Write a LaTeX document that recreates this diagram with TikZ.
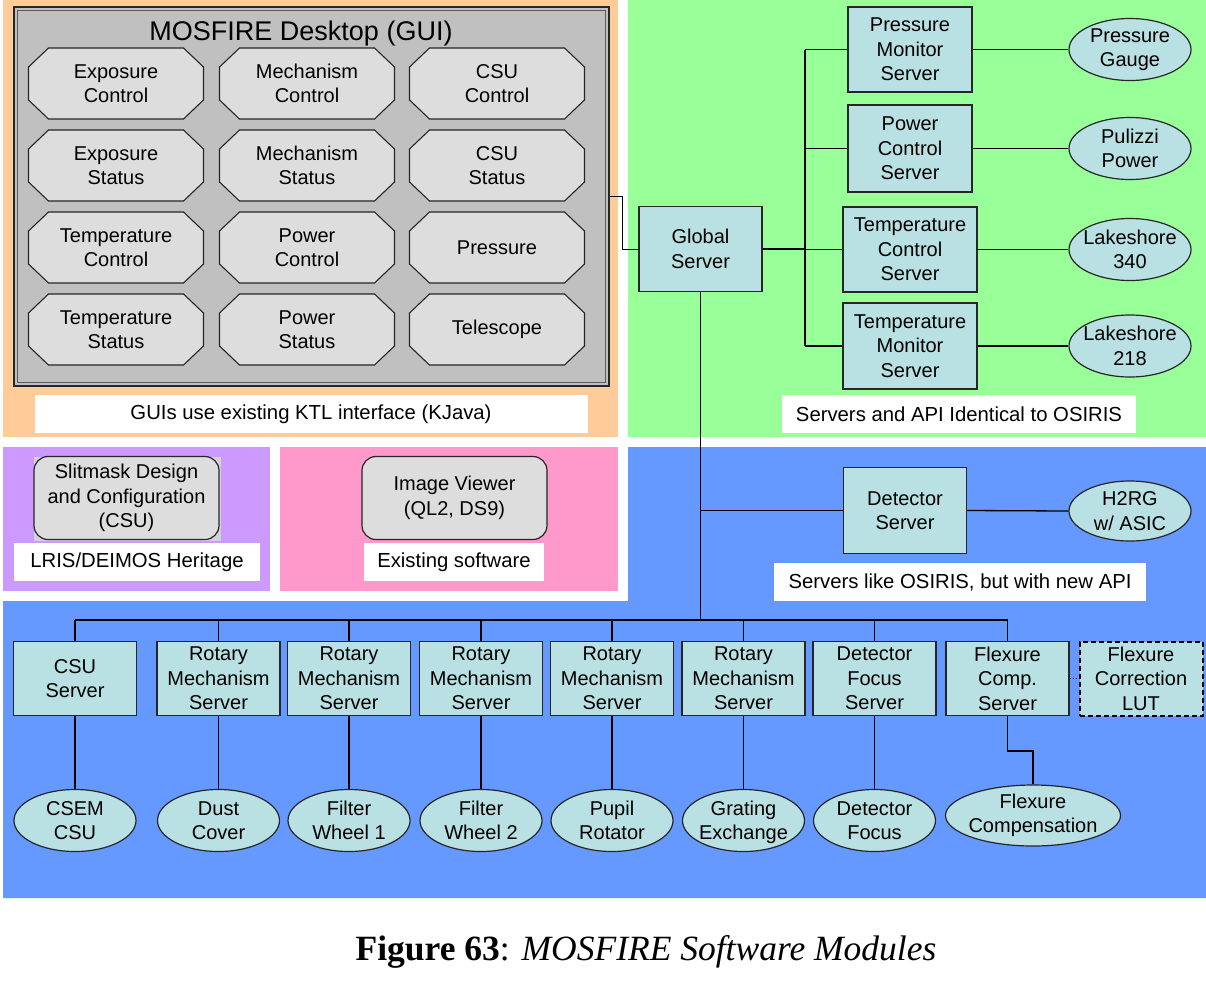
\documentclass[tikz,border=0pt]{standalone}
\usepackage{fontspec}
\setmainfont{Liberation Sans}
\newfontfamily\capfont{Liberation Serif}
\usetikzlibrary{shapes.geometric}
\definecolor{orangebg}{HTML}{FFCC99}
\definecolor{greenbg}{HTML}{99FF99}
\definecolor{purplebg}{HTML}{CC99FF}
\definecolor{pinkbg}{HTML}{FF99CC}
\definecolor{bluebg}{HTML}{6699FF}
\definecolor{srvc}{HTML}{B9E0E2}
\definecolor{octc}{HTML}{DDDDDD}
\definecolor{framec}{HTML}{C0C0C0}
\definecolor{slitbg}{HTML}{D4D0D8}
\newcommand\fs{\fontsize{20}{24.5}\selectfont}
\newcommand\lfs{\fontsize{20.3}{24}\selectfont}
\newcommand\octa[4]{\begin{scope}[shift={(#2,#3)}]
  \filldraw[octs] (-87.5,-16.5) -- (-67.5,-35.5) -- (67.5,-35.5) -- (87.5,-16.5) -- (87.5,16.5) -- (67.5,35.5) -- (-67.5,35.5) -- (-87.5,16.5) -- cycle;
  \node[txt] (#1) at (0,0) {#4};\end{scope}}
\begin{document}
\begin{tikzpicture}[x=1pt,y=-1pt,
  txt/.style={align=center,font=\fs,inner sep=0pt},
  octs/.style={fill=octc,draw=black!85,line width=1.1pt},
  srv/.style={draw=black!85,line width=1.2pt,fill=srvc,inner sep=0pt,align=center,font=\fs,minimum width=123pt,minimum height=85pt},
  bsrv/.style={srv,minimum width=123pt,minimum height=74pt},
  ell/.style={ellipse,draw=black!85,line width=1.2pt,fill=srvc,inner sep=0pt,minimum width=122pt,minimum height=62pt},
  rbox/.style={draw=black!85,line width=1.2pt,fill=octc,rounded corners=14pt,inner sep=0pt,align=center,font=\fs,minimum width=185pt,minimum height=83pt},
  lbl/.style={fill=white,inner sep=0pt,font=\lfs,minimum height=38pt},
  conn/.style={line width=1.3pt,black}]
\useasboundingbox (0,0) rectangle (1206,980);
\fill[white] (0,0) rectangle (1206,980);
% backgrounds
\fill[orangebg] (3,0) rectangle (618,437);
\fill[greenbg] (628,0) rectangle (1206,437);
\fill[purplebg] (3,447) rectangle (270,591);
\fill[pinkbg] (280,447) rectangle (618,591);
\fill[bluebg] (628,447) -- (1206,447) -- (1206,898) -- (3,898) -- (3,601) -- (628,601) -- cycle;
% desktop frame
\node[draw=black!85,line width=1.6pt,fill=framec,minimum width=595pt,minimum height=379pt,inner sep=0pt] (desk) at (311.5,196.5) {};
\draw[black!65,line width=1pt] ([shift={(4,4)}]desk.north west) rectangle ([shift={(-4,-4)}]desk.south east);
\node[font=\fontsize{27}{30}\selectfont,anchor=base,inner sep=0pt] (title) at (301,40) {MOSFIRE Desktop (GUI)};
\octa{o11}{116}{83.5}{Exposure\\Control}
\octa{o12}{307}{83.5}{Mechanism\\Control}
\octa{o13}{497}{83.5}{CSU\\Control}
\octa{o21}{116}{165.5}{Exposure\\Status}
\octa{o22}{307}{165.5}{Mechanism\\Status}
\octa{o23}{497}{165.5}{CSU\\Status}
\octa{o31}{116}{247.5}{Temperature\\Control}
\octa{o32}{307}{247.5}{Power\\Control}
\octa{o33}{497}{247.5}{Pressure}
\octa{o41}{116}{329.5}{Temperature\\Status}
\octa{o42}{307}{329.5}{Power\\Status}
\octa{o43}{497}{329.5}{Telescope}
\node[lbl,minimum width=553pt] (l1) at (311,414) {GUIs use existing KTL interface (KJava)};
% green area
\node[srv] (gs) at (700.5,249) {Global\\Server};
\node[srv,minimum width=124pt] (pm) at (910,49.5) {Pressure\\Monitor\\Server};
\node[srv,minimum width=124pt,minimum height=87pt] (pc) at (910,148.5) {Power\\Control\\Server};
\node[srv,minimum width=134pt] (tc) at (910,249.5) {Temperature\\Control\\Server};
\node[srv,minimum width=134pt,minimum height=86pt] (tm) at (910,346) {Temperature\\Monitor\\Server};
\node[ell,label={[txt]center:Pressure\\Gauge}] (pg) at (1130,49.5) {};
\node[ell,label={[txt]center:Pulizzi\\Power}] (pp) at (1130,148.5) {};
\node[ell,label={[txt]center:Lakeshore\\340}] (l340) at (1130,249.5) {};
\node[ell,label={[txt]center:Lakeshore\\218}] (l218) at (1130,346) {};
\node[lbl,minimum width=354pt] (l2) at (959,414) {Servers and API Identical to OSIRIS};
\coordinate (gbus) at (805,0);
\draw[conn] (gbus |- pm.west) -- (gbus |- tm.west);
\draw[conn] (gs.east) -- (gbus |- gs.east);
\foreach \s/\e in {pm/pg,pc/pp,tc/l340,tm/l218}{
  \draw[conn] (gbus |- \s.west) -- (\s.west);
  \draw[conn] (\s.east) -- (\e.west);
}
\draw[line width=1pt] (desk.east) -- ++(13,0) |- (gs.west);
% purple and pink
\fill[slitbg] (34,457) rectangle (221,541);
\node[rbox] (slit) at (126.5,498) {Slitmask Design\\and Configuration\\(CSU)};
\node[lbl,minimum width=246pt] (l3) at (137,562) {LRIS/DEIMOS Heritage};
\node[rbox] (iv) at (454.5,498) {Image Viewer\\(QL2, DS9)};
\node[lbl,minimum width=180pt] (l4) at (454,562) {Existing software};
% blue upper
\node[srv,minimum height=86pt] (ds) at (905,510.5) {Detector\\Server};
\node[ell,minimum height=60pt,label={[txt]center:H2RG\\w/ ASIC}] (h2) at (1130,511) {};
\node[lbl,minimum width=372pt] (l5) at (960,582) {Servers like OSIRIS, but with new API};
\coordinate (busL) at (75,620);
\coordinate (busR) at (1007.5,620);
\draw[conn,line width=1.6pt] (gs.south) -- (gs.south |- busL);
\draw[conn,line width=1.6pt] (busL) -- (busR);
\draw[conn] (gs.south |- ds.west) -- (ds.west);
\draw[conn] (ds.east) -- (h2.west);
% bottom servers
\node[bsrv] (csu) at (75,678.5) {CSU\\Server};
\node[bsrv] (r1) at (218.5,678.5) {Rotary\\Mechanism\\Server};
\node[bsrv] (r2) at (349,678.5) {Rotary\\Mechanism\\Server};
\node[bsrv] (r3) at (481,678.5) {Rotary\\Mechanism\\Server};
\node[bsrv] (r4) at (612,678.5) {Rotary\\Mechanism\\Server};
\node[bsrv] (r5) at (743.5,678.5) {Rotary\\Mechanism\\Server};
\node[bsrv] (dfs) at (874.5,678.5) {Detector\\Focus\\Server};
\node[bsrv] (fc) at (1007.5,678.5) {Flexure\\Comp.\\Server};
\node[bsrv,dash pattern=on 5pt off 3pt,line width=2pt,draw=black] (lut) at (1141,678.5) {Flexure\\Correction\\LUT};
\draw[dotted,line width=1pt] (fc.east) -- (lut.west);
\node[ell,label={[txt]center:CSEM\\CSU}] (e1) at (75,820.5) {};
\node[ell,label={[txt]center:Dust\\Cover}] (e2) at (218.5,820.5) {};
\node[ell,label={[txt]center:Filter\\Wheel 1}] (e3) at (349,820.5) {};
\node[ell,label={[txt]center:Filter\\Wheel 2}] (e4) at (481,820.5) {};
\node[ell,label={[txt]center:Pupil\\Rotator}] (e5) at (612,820.5) {};
\node[ell,label={[txt,yshift=-2pt]center:Grating\\Exchange}] (e6) at (743.5,820.5) {};
\node[ell,label={[txt]center:Detector\\Focus}] (e7) at (874.5,820.5) {};
\node[ell,minimum width=175pt,minimum height=61pt,label={[txt]center:Flexure\\Compensation}] (e8) at (1033,815.5) {};
\foreach \s/\e in {csu/e1,r1/e2,r2/e3,r3/e4,r4/e5,r5/e6,dfs/e7}{
  \draw[conn] (\s.north) -- (\s.north |- busL);
  \draw[conn] (\s.south) -- (\e.north);
}
\draw[conn] (fc.north) -- (busR);
\draw[conn] (fc.south) -- ++(0,35) -| (e8.north);
% caption
\node[anchor=base,inner sep=0pt,font=\capfont\fontsize{35.5}{40}\selectfont] (cap) at (646,960) {\textbf{Figure 63}: \textit{MOSFIRE Software Modules}};
\end{tikzpicture}
\end{document}
